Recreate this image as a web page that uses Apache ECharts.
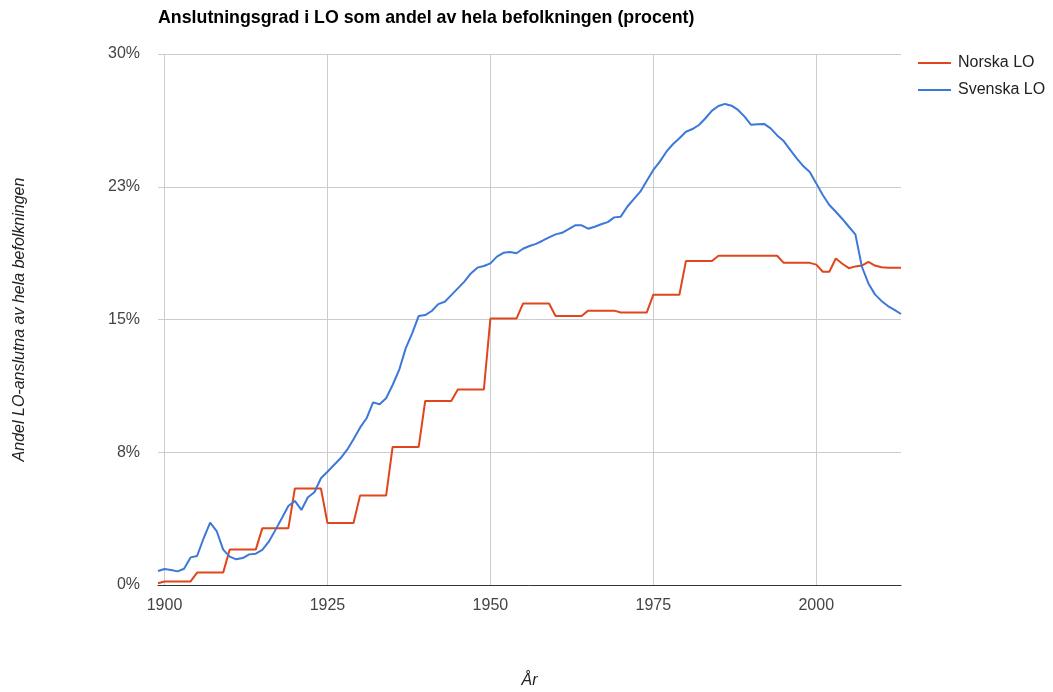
<!DOCTYPE html>
<html>
<head>
<meta charset="utf-8">
<title>Anslutningsgrad i LO</title>
<script src="https://cdn.jsdelivr.net/npm/echarts@6/dist/echarts.min.js"></script>
<style>
  html, body { margin: 0; padding: 0; background: #fff; }
  #chart { width: 1053px; height: 692px; }
</style>
</head>
<body>
<div id="chart"></div>
<script>
// år 1899-2013
var years = [
  1899,
  1900, 1901, 1902, 1903, 1904, 1905, 1906, 1907, 1908, 1909,
  1910, 1911, 1912, 1913, 1914, 1915, 1916, 1917, 1918, 1919,
  1920, 1921, 1922, 1923, 1924, 1925, 1926, 1927, 1928, 1929,
  1930, 1931, 1932, 1933, 1934, 1935, 1936, 1937, 1938, 1939,
  1940, 1941, 1942, 1943, 1944, 1945, 1946, 1947, 1948, 1949,
  1950, 1951, 1952, 1953, 1954, 1955, 1956, 1957, 1958, 1959,
  1960, 1961, 1962, 1963, 1964, 1965, 1966, 1967, 1968, 1969,
  1970, 1971, 1972, 1973, 1974, 1975, 1976, 1977, 1978, 1979,
  1980, 1981, 1982, 1983, 1984, 1985, 1986, 1987, 1988, 1989,
  1990, 1991, 1992, 1993, 1994, 1995, 1996, 1997, 1998, 1999,
  2000, 2001, 2002, 2003, 2004, 2005, 2006, 2007, 2008, 2009,
  2010, 2011, 2012, 2013
]

var norskaLO = [
  0.1,
  0.2, 0.2, 0.2, 0.2, 0.2, 0.7, 0.7, 0.7, 0.7, 0.7,
  2.0, 2.0, 2.0, 2.0, 2.0, 3.2, 3.2, 3.2, 3.2, 3.2,
  5.45, 5.45, 5.45, 5.45, 5.45, 3.5, 3.5, 3.5, 3.5, 3.5,
  5.05, 5.05, 5.05, 5.05, 5.05, 7.8, 7.8, 7.8, 7.8, 7.8,
  10.4, 10.4, 10.4, 10.4, 10.4, 11.05, 11.05, 11.05, 11.05, 11.05,
  15.05, 15.05, 15.05, 15.05, 15.05, 15.9, 15.9, 15.9, 15.9, 15.9,
  15.2, 15.2, 15.2, 15.2, 15.2, 15.5, 15.5, 15.5, 15.5, 15.5,
  15.4, 15.4, 15.4, 15.4, 15.4, 16.4, 16.4, 16.4, 16.4, 16.4,
  18.3, 18.3, 18.3, 18.3, 18.3, 18.6, 18.6, 18.6, 18.6, 18.6,
  18.6, 18.6, 18.6, 18.6, 18.6, 18.2, 18.2, 18.2, 18.2, 18.2,
  18.1, 17.7, 17.7, 18.45, 18.15, 17.9, 18.0, 18.05, 18.25, 18.05,
  17.95, 17.93, 17.93, 17.93
]

var svenskaLO = [
  0.79,
  0.9, 0.85, 0.77, 0.92, 1.56, 1.64, 2.64, 3.52, 3.05, 2.0,
  1.6, 1.45, 1.52, 1.73, 1.77, 1.98, 2.45, 3.1, 3.77, 4.46,
  4.75, 4.24, 4.96, 5.24, 6.03, 6.4, 6.78, 7.16, 7.63, 8.23,
  8.89, 9.42, 10.32, 10.21, 10.55, 11.3, 12.15, 13.37, 14.22, 15.2,
  15.25, 15.48, 15.87, 16.0, 16.38, 16.76, 17.14, 17.6, 17.93, 18.02,
  18.17, 18.55, 18.77, 18.81, 18.74, 19.0, 19.15, 19.27, 19.45, 19.64,
  19.81, 19.9, 20.1, 20.32, 20.32, 20.13, 20.24, 20.38, 20.5, 20.77,
  20.81, 21.37, 21.8, 22.22, 22.84, 23.45, 23.92, 24.48, 24.9, 25.24,
  25.61, 25.76, 25.99, 26.37, 26.8, 27.06, 27.18, 27.08, 26.84, 26.46,
  26.0, 26.03, 26.05, 25.8, 25.4, 25.08, 24.58, 24.1, 23.67, 23.33,
  22.69, 22.03, 21.47, 21.09, 20.68, 20.24, 19.81, 17.98, 17.04, 16.42,
  16.05, 15.76, 15.54, 15.31
]

var fontFamily = '"Liberation Sans", Arial, sans-serif'

function everyQuarterCentury(index, value) {
  return Number(value) % 25 === 0
}

var myChart = echarts.init(document.getElementById('chart'))
myChart.setOption({
  animation: false,
  textStyle: { fontFamily: fontFamily },
  title: {
    text: 'Anslutningsgrad i LO som andel av hela befolkningen (procent)',
    left: 158,
    top: 9,
    padding: 0,
    textStyle: { fontSize: 17.8, fontWeight: 'bold', color: '#000', fontFamily: fontFamily }
  },
  legend: {
    orient: 'vertical',
    left: 918,
    top: 55,
    padding: 0,
    itemWidth: 33,
    itemHeight: 2,
    itemGap: 11,
    icon: 'rect',
    textStyle: { fontSize: 16, color: '#222', fontFamily: fontFamily, padding: [0, 0, 0, 2] },
    data: ['Norska LO', 'Svenska LO']
  },
  grid: {
    left: 158,
    right: 152,
    top: 54,
    bottom: 107,
    outerBoundsMode: 'none'
  },
  xAxis: {
    type: 'category',
    boundaryGap: false,
    data: years,
    name: 'År',
    nameLocation: 'middle',
    nameGap: 88,
    nameTextStyle: { fontSize: 16, fontStyle: 'italic', color: '#222', fontFamily: fontFamily },
    axisLine: { show: true, lineStyle: { color: '#333', width: 1 } },
    axisTick: { show: false },
    axisLabel: {
      interval: everyQuarterCentury,
      margin: 13,
      fontSize: 16,
      color: '#444',
      fontFamily: fontFamily
    },
    splitLine: {
      show: true,
      interval: everyQuarterCentury,
      lineStyle: { color: '#ccc', width: 1 }
    }
  },
  yAxis: {
    type: 'value',
    min: 0,
    max: 30,
    interval: 7.5,
    name: 'Andel LO-anslutna av hela befolkningen',
    nameLocation: 'middle',
    nameGap: 130,
    nameRotate: 90,
    nameTextStyle: { fontSize: 16, fontStyle: 'italic', color: '#222', fontFamily: fontFamily },
    axisLine: { show: false },
    axisTick: { show: false },
    axisLabel: {
      margin: 18,
      fontSize: 16,
      color: '#444',
      fontFamily: fontFamily,
      formatter: function (v) { return Math.round(v) + '%' }
    },
    splitLine: { lineStyle: { color: '#ccc', width: 1 } }
  },
  series: [
    {
      name: 'Norska LO',
      type: 'line',
      data: norskaLO,
      symbol: 'none',
      lineStyle: { color: '#e0461c', width: 2 },
      itemStyle: { color: '#e0461c' }
    },
    {
      name: 'Svenska LO',
      type: 'line',
      data: svenskaLO,
      symbol: 'none',
      lineStyle: { color: '#3c78d8', width: 2 },
      itemStyle: { color: '#3c78d8' }
    }
  ]
})
</script>
</body>
</html>
